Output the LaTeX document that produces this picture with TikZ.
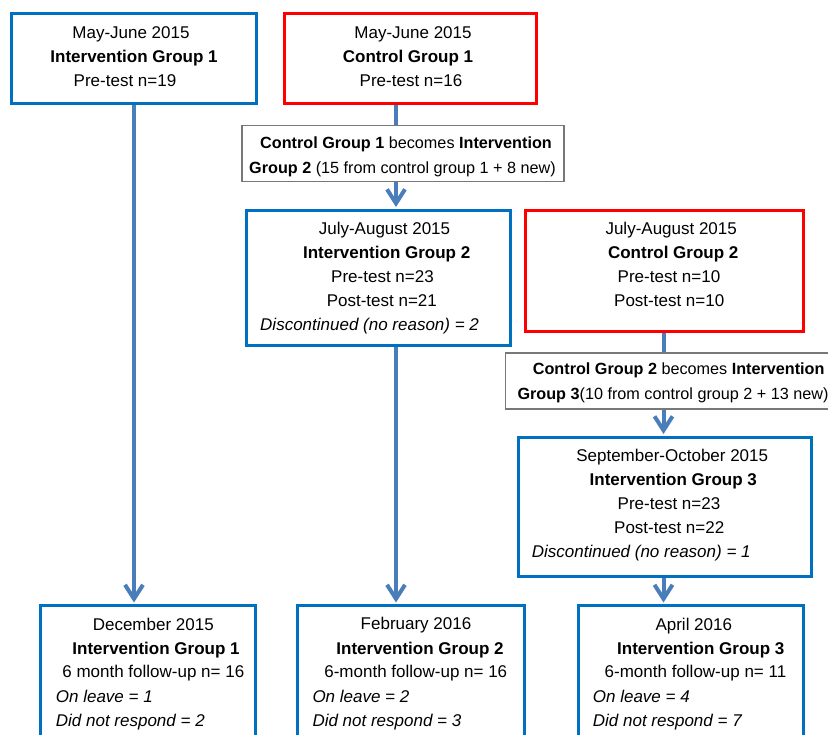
\documentclass[tikz,border=0pt]{standalone}
\usepackage{fontspec}
\setmainfont{Liberation Sans}
\usetikzlibrary{arrows.meta}
\definecolor{boxblue}{RGB}{0,112,192}
\definecolor{boxred}{RGB}{255,0,0}
\definecolor{arrowblue}{RGB}{74,126,187}
\definecolor{tgray}{RGB}{120,120,120}
\pgfdeclarelayer{connlayer}
\pgfsetlayers{connlayer,main}
\begin{document}
\begin{tikzpicture}[x=1bp,y=-1bp,
  bluebox/.style={draw=boxblue, line width=3bp, rectangle, inner sep=0pt},
  redbox/.style={draw=boxred, line width=3bp, rectangle, inner sep=0pt},
  tbox/.style={draw=tgray, line width=1.2bp, rectangle, inner sep=0pt, fill=white},
  txt/.style={inner sep=0pt, text height=12.2bp, text depth=0bp, font=\fontsize{17bp}{20bp}\selectfont},
  ttxt/.style={inner sep=0pt, text height=11.6bp, text depth=0bp, font=\fontsize{16.2bp}{20bp}\selectfont},
  conn/.style={draw=arrowblue, line width=4bp},
  arr/.style={conn, shorten >=1.5bp, -{Straight Barb[length=14bp,width=18bp]}}
]
\useasboundingbox (0,0) rectangle (828,735);
\clip (0,0) rectangle (828,735);

% boxes (nodes)
\node[bluebox, minimum width=245bp, minimum height=90bp] (ig1) at (134,58.5) {};
\node[redbox, minimum width=251.5bp, minimum height=89.5bp] (cg1) at (410.3,58.3) {};
\node[tbox, minimum width=322bp, minimum height=56.5bp] (t1) at (402.9,153.4) {};
\node[bluebox, minimum width=264bp, minimum height=135bp] (ig2) at (378,277.5) {};
\node[redbox, minimum width=278.5bp, minimum height=121.5bp] (cg2) at (664.3,270.9) {};
\node[tbox, minimum width=334bp, minimum height=56bp] (t2) at (672.8,381) {};
\node[bluebox, minimum width=293bp, minimum height=139bp] (ig3) at (664.5,506.5) {};
\node[bluebox, minimum width=214.5bp, minimum height=154bp] (dec) at (148.25,682.5) {};
\node[bluebox, minimum width=227.3bp, minimum height=154bp] (feb) at (411.3,682.5) {};
\node[bluebox, minimum width=225.3bp, minimum height=154bp] (apr) at (691.3,682.5) {};

% connector columns
\coordinate (xa) at (134,0);
\coordinate (xb) at (396,0);
\coordinate (xc) at (663.5,0);

\begin{pgfonlayer}{connlayer}
\draw[arr] (ig1.south -| xa) -- (dec.north -| xa);
\draw[conn] (cg1.south -| xb) -- (t1.north -| xb);
\draw[arr] (t1.south -| xb) -- (ig2.north -| xb);
\draw[arr] (ig2.south -| xb) -- (feb.north -| xb);
\draw[conn] (cg2.south -| xc) -- (t2.north -| xc);
\draw[arr] (t2.south -| xc) -- (ig3.north -| xc);
\draw[arr] (ig3.south -| xc) -- (apr.north -| xc);
\end{pgfonlayer}

% texts
\node[txt] (ig1a) at (131,32) {May-June 2015};
\node[txt] (ig1b) at (134,56) {\bfseries Intervention Group 1};
\node[txt] (ig1c) at (125,80) {Pre-test n=19};

\node[txt] (cg1a) at (413,32) {May-June 2015};
\node[txt] (cg1b) at (408,56) {\bfseries Control Group 1};
\node[txt] (cg1c) at (411,80) {Pre-test n=16};

\node[ttxt] (t1a) at (406,143) {\bfseries Control Group 1 \mdseries becomes \bfseries Intervention};
\node[ttxt] (t1b) at (402.5,168) {\bfseries Group 2 \mdseries (15 from control group 1 + 8 new)};

\node[txt] (ig2a) at (384.5,228.5) {July-August 2015};
\node[txt] (ig2b) at (386.7,252.7) {\bfseries Intervention Group 2};
\node[txt] (ig2c) at (382.5,276.7) {Pre-test n=23};
\node[txt] (ig2d) at (381.8,300) {Post-test n=21};
\node[txt, anchor=west] (ig2e) at (260,324) {\itshape Discontinued (no reason) = 2};

\node[txt] (cg2a) at (671.2,228.5) {July-August 2015};
\node[txt] (cg2b) at (673.2,252.7) {\bfseries Control Group 2};
\node[txt] (cg2c) at (669,276.7) {Pre-test n=10};
\node[txt] (cg2d) at (669.2,300) {Post-test n=10};

\node[ttxt] (t2a) at (678.7,369) {\bfseries Control Group 2 \mdseries becomes \bfseries Intervention};
\node[ttxt, anchor=west] (t2b) at (517.3,394) {\bfseries Group 3\mdseries(10 from control group 2 + 13 new)};

\node[txt] (ig3a) at (672.2,455) {September-October 2015};
\node[txt] (ig3b) at (673.3,479.3) {\bfseries Intervention Group 3};
\node[txt] (ig3c) at (669,503.3) {Pre-test n=23};
\node[txt] (ig3d) at (669.2,527.3) {Post-test n=22};
\node[txt, anchor=west] (ig3e) at (531.7,551) {\itshape Discontinued (no reason) = 1};

\node[txt] (deca) at (153.3,624) {December 2015};
\node[txt] (decb) at (156,648.3) {\bfseries Intervention Group 1};
\node[txt] (decc) at (153.3,671.7) {6 month follow-up n= 16};
\node[txt, anchor=west] (decd) at (55.7,696) {\itshape On leave = 1};
\node[txt, anchor=west] (dece) at (55.7,720) {\itshape Did not respond = 2};

\node[txt] (feba) at (416,623.5) {February 2016};
\node[txt] (febb) at (420,648.3) {\bfseries Intervention Group 2};
\node[txt] (febc) at (415.8,671.7) {6-month follow-up n= 16};
\node[txt, anchor=west] (febd) at (312.3,696) {\itshape On leave = 2};
\node[txt, anchor=west] (febe) at (312.3,720) {\itshape Did not respond = 3};

\node[txt] (apra) at (693.8,624) {April 2016};
\node[txt] (aprb) at (700.8,648.3) {\bfseries Intervention Group 3};
\node[txt] (aprc) at (695.5,671.7) {6-month follow-up n= 11};
\node[txt, anchor=west] (aprd) at (592.7,696) {\itshape On leave = 4};
\node[txt, anchor=west] (apre) at (592.7,720) {\itshape Did not respond = 7};
\end{tikzpicture}
\end{document}
